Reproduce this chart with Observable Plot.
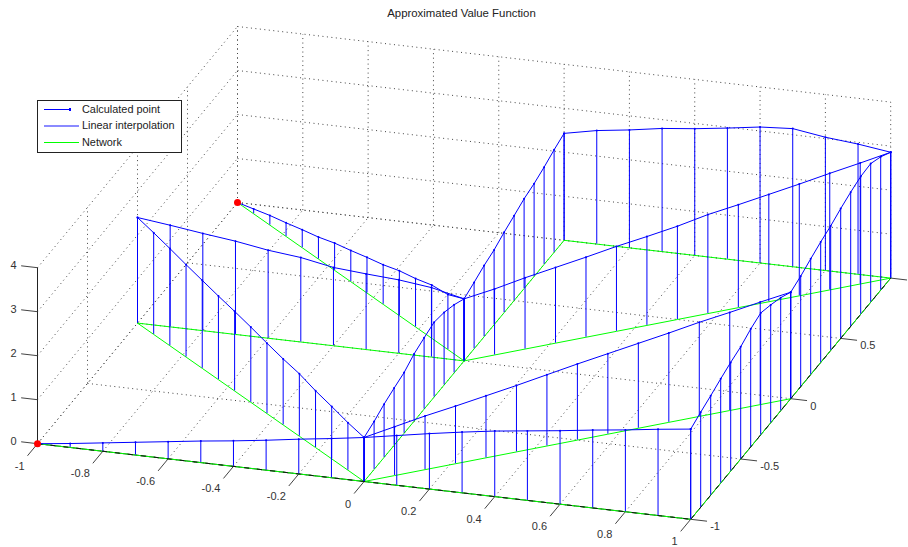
<!DOCTYPE html>
<html>
<head>
<meta charset="utf-8">
<script src="https://cdn.jsdelivr.net/npm/d3@7"></script>
<script src="https://cdn.jsdelivr.net/npm/@observablehq/plot@0.6"></script>
<style>
html,body{margin:0;padding:0;background:#fff}
#wrap{position:relative;width:908px;height:547px;overflow:hidden;font-family:"Liberation Sans",Arial,sans-serif;color:#222}
#wrap svg{display:block;position:absolute;left:0;top:0;background:#fff}
#title{position:absolute;left:0;width:923px;top:7px;text-align:center;font-size:11.4px;line-height:13px}
#legend{position:absolute;left:37px;top:100px;width:143px;height:51px;border:1px solid #222;background:#fff;font-size:10.9px}
#legend .row{position:absolute;left:44px;white-space:nowrap;line-height:12px}
#legend .sw{position:absolute;left:6px}
#legend .dot{position:absolute;left:31px;width:2px;height:3px;background:#00f}
</style>
</head>
<body>
<div id="wrap">
<div id="title">Approximated Value Function</div>
</div>
<script>
const xTicks = [-1,-0.8,-0.6,-0.4,-0.2,0,0.2,0.4,0.6,0.8,1];
const yTicks = [-1,-0.5,0,0.5,1];
const yLabels = [-1,-0.5,0,0.5];
const zTicks = [0,1,2,3,4];

// Value at each calculated point along each network link
const zBottomLeft  = [0,0.09,0.19,0.29,0.39,0.49,0.58,0.68,0.79,0.89,1.0];
const zBottomRight = [1.0,1.13,1.26,1.38,1.49,1.58,1.67,1.77,1.86,1.96,2.05];
const zRightLower  = [2.05,2.16,2.26,2.37,2.47,2.55,2.68,2.77,2.68,2.57,2.42];
const zRightUpper  = [2.42,2.51,2.63,2.74,2.83,2.95,3.05,3.13,3.15,3.03,2.86];
const zBackRight   = [2.86,2.96,3.03,3.14,3.09,2.98,2.88,2.80,2.68,2.58,2.43];
const zCentreUpper = [2.43,2.33,2.21,2.11,2.04,1.93,1.825,1.70,1.62,1.51,1.41];
const zCentreLower = [1.41,1.55,1.65,1.70,1.62,1.53,1.38,1.30,1.21,1.09,1.0];
const zLeftCentre  = [2.40,2.31,2.21,2.12,2.0,1.92,1.78,1.72,1.67,1.58,1.41];
const zDiagUp      = [1.41,1.50,1.62,1.72,1.82,1.93,2.02,2.12,2.25,2.34,2.44,2.54,2.65,2.75,2.86];
const zDiagRight   = [1.0,1.11,1.22,1.31,1.41,1.51,1.62,1.73,1.83,1.93,2.03,2.14,2.23,2.33,2.42];
const zDiagLeft    = [2.40,2.31,2.21,2.10,2.0,1.90,1.81,1.71,1.60,1.50,1.42,1.29,1.19,1.08,1.0];
const zDiagBack    = [0,0.11,0.22,0.31,0.41,0.50,0.62,0.71,0.81,0.90,1.02,1.10,1.21,1.25,1.41];

const links = [
  {from:[-1,-1], to:[0,-1], z:zBottomLeft},
  {from:[0,-1],  to:[1,-1], z:zBottomRight},
  {from:[1,-1],  to:[1,0],  z:zRightLower},
  {from:[1,0],   to:[1,1],  z:zRightUpper},
  {from:[1,1],   to:[0,1],  z:zBackRight},
  {from:[0,1],   to:[0,0],  z:zCentreUpper},
  {from:[0,0],   to:[0,-1], z:zCentreLower},
  {from:[-1,0],  to:[0,0],  z:zLeftCentre},
  {from:[0,0],   to:[1,1],  z:zDiagUp},
  {from:[0,-1],  to:[1,0],  z:zDiagRight},
  {from:[-1,0],  to:[0,-1], z:zDiagLeft},
  {from:[-1,1],  to:[0,0],  z:zDiagBack}
];
const sources = [[-1,-1],[-1,1]];

// Orthographic view of the 3-D axes
const sx = (x,y) => 37 + (x+1)*326.6 + (y+1)*100;
const sy = (x,y,z) => 443.2 + (x+1)*37.8 - (y+1)*120.6 - z*44;

const rows = [];
links.forEach((l,k) => l.z.forEach((z,i) => {
  const t = i/(l.z.length-1);
  rows.push({link:k, x:l.from[0]+(l.to[0]-l.from[0])*t, y:l.from[1]+(l.to[1]-l.from[1])*t, z});
}));

// Grid segments from the axis ticks
const seg = (a,b) => ({x1:sx(a[0],a[1]),y1:sy(a[0],a[1],a[2]),x2:sx(b[0],b[1]),y2:sy(b[0],b[1],b[2])});
const grid = [
  ...xTicks.map(x => seg([x,-1,0],[x,1,0])),
  ...yTicks.map(y => seg([-1,y,0],[1,y,0])),
  ...xTicks.map(x => seg([x,1,0],[x,1,4])),
  ...zTicks.map(z => seg([-1,1,z],[1,1,z])),
  ...yTicks.map(y => seg([-1,y,0],[-1,y,4])),
  ...zTicks.map(z => seg([-1,-1,z],[-1,1,z]))
];
const tickSegs = [
  ...xTicks.map(x => seg([x,-1,0],[x,-1.1,0])),
  ...yTicks.map(y => seg([1,y,0],[1.05,y,0])),
  ...zTicks.map(z => seg([-1,-1,z],[-1.05,-1,z]))
];
const axisSegs = [seg([-1,-1,0],[-1,-1,4])];
const edgeSegs = [seg([-1,-1,0],[1,-1,0]), seg([1,-1,0],[1,1,0])];
const link = (data,opts) => Plot.link(data,{x1:"x1",y1:"y1",x2:"x2",y2:"y2",...opts});
const fmt = v => String(v);
const labelFont = {fontSize:11, fill:"#333", lineAnchor:"middle"};

const chart = Plot.plot({
  width:908, height:547,
  marginTop:0, marginRight:0, marginBottom:0, marginLeft:0,
  x:{domain:[0,908], range:[0,908], axis:null},
  y:{domain:[0,547], range:[0,547], axis:null},
  style:{fontFamily:'"Liberation Sans",Arial,sans-serif', background:"#fff"},
  marks:[
    link(grid,{stroke:"#444", strokeWidth:1, strokeDasharray:"1 3.5"}),
    link(axisSegs,{stroke:"#222", strokeWidth:1}),
    link(edgeSegs,{stroke:"#222", strokeWidth:1}),
    link(tickSegs,{stroke:"#444", strokeWidth:1}),
    Plot.line(rows,{x:d=>sx(d.x,d.y), y:d=>sy(d.x,d.y,0), z:"link", stroke:"#00ff00", strokeWidth:1}),
    link(edgeSegs,{stroke:"#111", strokeWidth:1, strokeDasharray:"5 8"}),
    Plot.ruleX(rows,{x:d=>sx(d.x,d.y), y1:d=>sy(d.x,d.y,0), y2:d=>sy(d.x,d.y,d.z), stroke:"#0000ff", strokeWidth:1}),
    Plot.line(rows,{x:d=>sx(d.x,d.y), y:d=>sy(d.x,d.y,d.z), z:"link", stroke:"#0000ff", strokeWidth:1}),
    Plot.dot(rows,{x:d=>sx(d.x,d.y), y:d=>sy(d.x,d.y,d.z), r:1, fill:"#0000ff"}),
    Plot.dot(sources,{x:d=>sx(d[0],d[1]), y:d=>sy(d[0],d[1],0), r:3.5, fill:"#ff0000"}),
    Plot.text(xTicks,{x:d=>sx(d,-1), y:d=>sy(d,-1,0), text:fmt, textAnchor:"end", dx:-13, dy:22.5, ...labelFont}),
    Plot.text(yLabels,{x:d=>sx(1,d), y:d=>sy(1,d,0), text:fmt, textAnchor:"start", dx:19.5, dy:7.5, ...labelFont}),
    Plot.text(zTicks,{x:()=>sx(-1,-1), y:d=>sy(-1,-1,d), text:fmt, textAnchor:"end", dx:-21, dy:-2, ...labelFont})
  ]
});
const wrap = document.getElementById("wrap");
wrap.insertBefore(chart, wrap.firstChild);

const legendItems = [
  {label:"Calculated point", color:"#0000ff", width:26, thick:1, top:8, dot:true},
  {label:"Linear interpolation", color:"#8a8aff", width:35, thick:2, top:24, dot:false},
  {label:"Network", color:"#00ff00", width:35, thick:1, top:41, dot:false}
];
const legend = document.createElement("div");
legend.id = "legend";
legendItems.forEach(item => {
  const sw = document.createElement("div");
  sw.className = "sw";
  sw.style.top = item.top + "px";
  sw.style.width = item.width + "px";
  sw.style.height = item.thick + "px";
  sw.style.background = item.color;
  legend.appendChild(sw);
  if (item.dot) {
    const dot = document.createElement("div");
    dot.className = "dot";
    dot.style.top = (item.top-1) + "px";
    legend.appendChild(dot);
  }
  const row = document.createElement("div");
  row.className = "row";
  row.style.top = (item.top-6) + "px";
  row.textContent = item.label;
  legend.appendChild(row);
});
wrap.appendChild(legend);
</script>
</body>
</html>
